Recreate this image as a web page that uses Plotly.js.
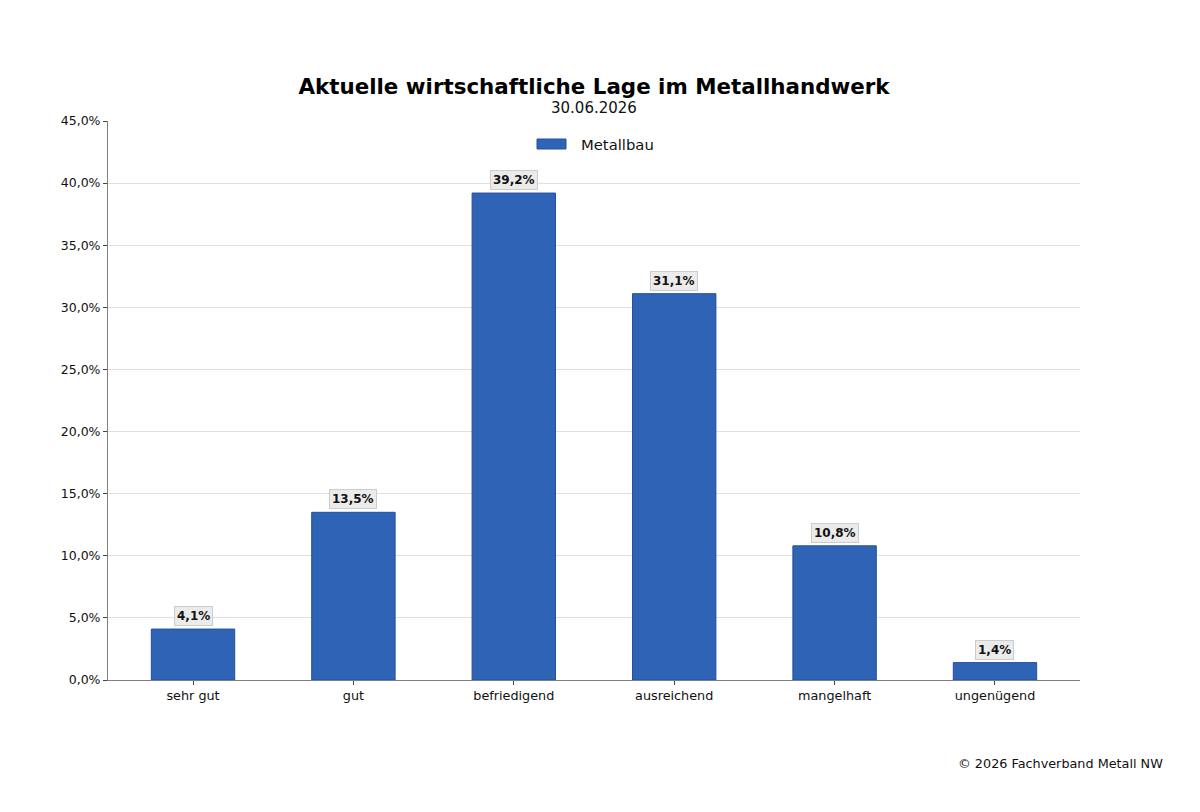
<!DOCTYPE html>
<html>
<head>
<meta charset="utf-8">
<script src="https://cdn.plot.ly/plotly-3.0.1.min.js"></script>
<style>
  body { margin: 0; background: #fff; }
  #chart { width: 1200px; height: 812px; }
</style>
</head>
<body>
<div id="chart"></div>
<script>
  // Bewertung der wirtschaftlichen Lage, Anteile in Prozent
  var categories = ["sehr gut", "gut", "befriedigend", "ausreichend", "mangelhaft", "ungenügend"];
  var metallbau = [4.1, 13.5, 39.2, 31.1, 10.8, 1.4];
  var yTicks = [0, 5, 10, 15, 20, 25, 30, 35, 40, 45];
  var seriesName = "Metallbau";
  var barColor = "#2f63b5";

  var fmt = function (v) {
    return v.toFixed(1).replace(".", ",") + "%";
  };

  var data = [
    {
      type: "bar",
      name: seriesName,
      x: categories,
      y: metallbau,
      width: 0.52,
      marker: {
        color: barColor,
        line: { color: "#24509a", width: 1 },
      },
      hoverinfo: "none",
      showlegend: false,
    },
  ];

  var labels = categories.map(function (c, i) {
    return {
      x: c,
      y: metallbau[i],
      xref: "x",
      yref: "y",
      text: "<b>" + fmt(metallbau[i]) + "</b>",
      showarrow: false,
      yanchor: "bottom",
      yshift: 3,
      font: { family: "DejaVu Sans", size: 12, color: "#111" },
      bgcolor: "#ebebeb",
      bordercolor: "#cccccc",
      borderwidth: 1,
      borderpad: 2,
    };
  });

  labels.push({
    xref: "paper",
    yref: "paper",
    x: 1 + 85 / 972,
    y: -83 / 559,
    xanchor: "right",
    yanchor: "middle",
    text: "© 2026 Fachverband Metall NW",
    showarrow: false,
    font: { family: "DejaVu Sans", size: 12.8, color: "#111" },
  });

  labels.push({
    xref: "paper",
    yref: "paper",
    x: 0.5,
    y: 1 + 13 / 559,
    xanchor: "center",
    yanchor: "middle",
    text: "30.06.2026",
    showarrow: false,
    font: { family: "DejaVu Sans", size: 15, color: "#111" },
  });

  // Legende: breites Rechteck + Beschriftung wie im Original
  labels.push({
    xref: "paper",
    yref: "paper",
    x: 471 / 972,
    y: 1 - 23 / 559,
    xanchor: "left",
    yanchor: "middle",
    text: seriesName,
    showarrow: false,
    font: { family: "DejaVu Sans", size: 14.8, color: "#111" },
  });

  var shapes = [
    {
      type: "rect",
      xref: "paper",
      yref: "paper",
      x0: 429 / 972,
      x1: 458 / 972,
      y0: 1 - 28 / 559,
      y1: 1 - 18 / 559,
      fillcolor: barColor,
      line: { color: "#24509a", width: 1 },
    },
  ];

  var layout = {
    width: 1200,
    height: 812,
    margin: { l: 108, r: 120, t: 121, b: 132 },
    paper_bgcolor: "#fff",
    plot_bgcolor: "#fff",
    separators: ",.",
    font: { family: "DejaVu Sans", size: 12, color: "#111" },
    title: {
      text: "<b>Aktuelle wirtschaftliche Lage im Metallhandwerk</b>",
      font: { family: "DejaVu Sans", size: 21.4, color: "#000" },
      x: 0.495,
      xanchor: "center",
      y: 1 - 87 / 812,
      yanchor: "middle",
    },
    showlegend: false,
    xaxis: {
      range: [-0.53, 5.53],
      showgrid: false,
      showline: true,
      linecolor: "#808080",
      linewidth: 1,
      ticks: "outside",
      ticklen: 4,
      tickcolor: "#444",
      tickfont: { family: "DejaVu Sans", size: 12.8, color: "#111" },
      fixedrange: true,
    },
    yaxis: {
      range: [0, 45],
      tickvals: yTicks,
      ticktext: yTicks.map(fmt),
      showgrid: true,
      gridcolor: "#e0e0e0",
      gridwidth: 1,
      zeroline: false,
      showline: true,
      linecolor: "#808080",
      linewidth: 1,
      ticks: "outside",
      ticklen: 4,
      tickcolor: "#444",
      tickfont: { family: "DejaVu Sans", size: 12.5, color: "#111" },
      fixedrange: true,
    },
    shapes: shapes,
    annotations: labels,
  };

  Plotly.newPlot("chart", data, layout, { displayModeBar: false, staticPlot: true });
</script>
</body>
</html>
